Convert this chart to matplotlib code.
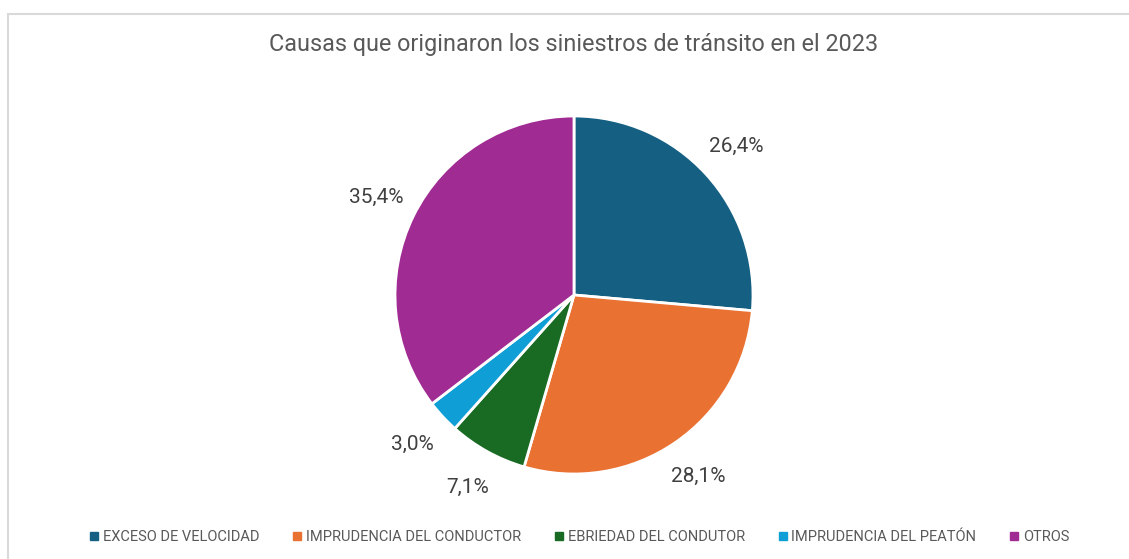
import matplotlib.pyplot as plt
from matplotlib.patches import Rectangle
from matplotlib.lines import Line2D

# datos del gráfico
causas = ['EXCESO DE VELOCIDAD', 'IMPRUDENCIA DEL CONDUCTOR', 'EBRIEDAD DEL CONDUTOR',
          'IMPRUDENCIA DEL PEATÓN', 'OTROS']
porcentajes = [26.4, 28.1, 7.1, 3.0, 35.4]
colores = ['#156082', '#E97132', '#196B24', '#0F9ED5', '#A02B93']
titulo = 'Causas que originaron los siniestros de tránsito en el 2023'

plt.rcParams['font.family'] = ['Roboto', 'DejaVu Sans']

W, H = 1129, 559
fig = plt.figure(figsize=(W / 100, H / 100), dpi=100)
fig.patch.set_facecolor('white')

# marco del área del gráfico
fig.patches.append(Rectangle((8 / W, -0.05), 1.1, (H - 14) / H + 0.05, transform=fig.transFigure,
                             fill=False, edgecolor='#d9d9d9', linewidth=1.5))

# torta: centro (574, 295) px, radio 179 px
cx, cy, r = 574, H - 295, 179
ax = fig.add_axes([(cx - r) / W, (cy - r) / H, 2 * r / W, 2 * r / H])

wedges, texts, autotexts = ax.pie(
    porcentajes, colors=colores, startangle=90, counterclock=False,
    autopct=lambda p: '{:.1f}%'.format(p).replace('.', ','), pctdistance=1.23,
    wedgeprops=dict(edgecolor='white', linewidth=2), normalize=True)
for t in autotexts:
    t.set_color('#404040')
    t.set_fontsize(15)
ax.set_xlim(-1, 1)
ax.set_ylim(-1, 1)
ax.set_aspect('equal')

fig.text(574 / W, 1 - 45 / H, titulo, ha='center', va='center', fontsize=16.8, color='#595959')

handles = [Line2D([], [], marker='s', linestyle='', markersize=5.5, color=c) for c in colores]
fig.legend(handles, causas, loc='center', bbox_to_anchor=(578 / W, 22 / H), ncol=5,
           frameon=False, fontsize=10.5, labelcolor='#595959', handletextpad=0.1,
           columnspacing=2.1, handlelength=1.0)

fig.savefig('out.png', dpi=100)
